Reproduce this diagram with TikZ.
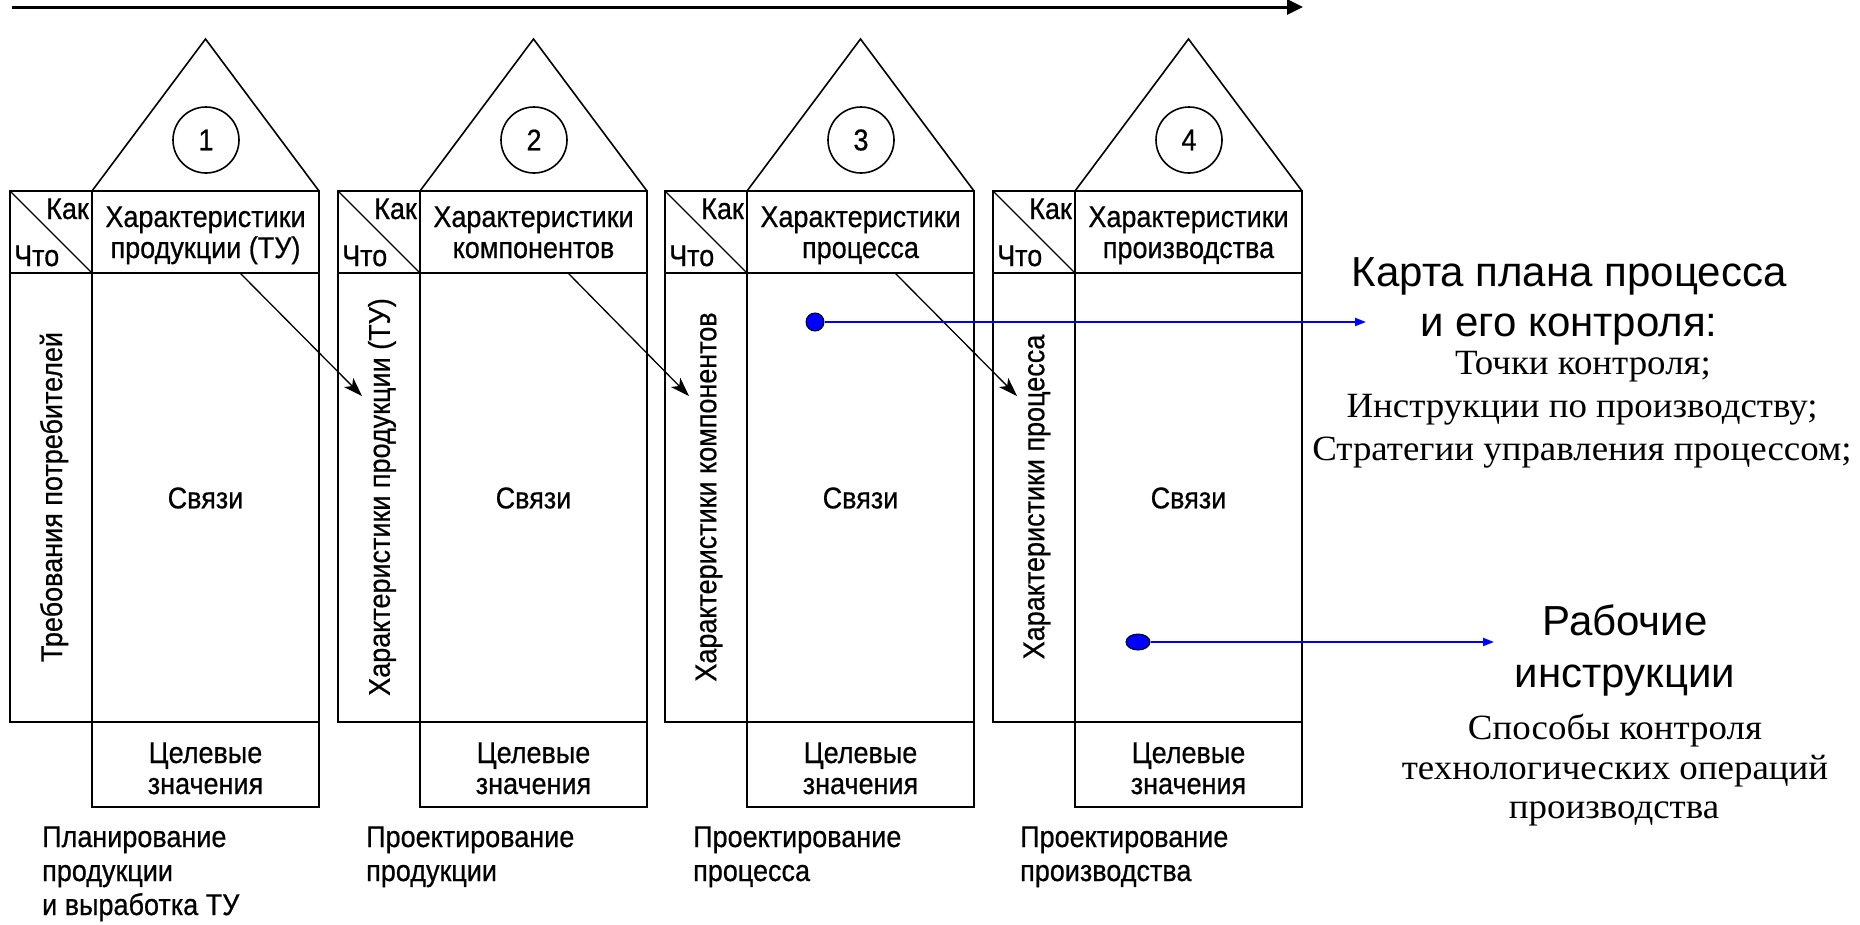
\documentclass[tikz,border=0pt]{standalone}
\usepackage{fontspec}
\setmainfont{Liberation Sans}
\newfontfamily\narrowsans[FakeStretch=0.9,FakeBold=0.6]{Liberation Sans}
\newfontfamily\tnr[FakeStretch=1.04]{Liberation Serif}
\usetikzlibrary{arrows.meta,shapes.geometric}
\definecolor{linkblue}{RGB}{0,0,255}
\begin{document}
\begin{tikzpicture}[x=1pt,y=-1pt,
  cell/.style={draw=black, line width=2.2pt},
  roofline/.style={draw=black, line width=1.6pt},
  sans/.style={font=\narrowsans\fontsize{30}{30}\selectfont, inner sep=0pt},
  big/.style={font=\fontsize{42}{42}\selectfont, inner sep=0pt, anchor=base},
  ser/.style={font=\tnr\fontsize{35.5}{35.5}\selectfont, inner sep=0pt, anchor=base},
  flow/.style={draw=black, line width=1.3pt, -{Stealth[length=19pt,width=13pt,inset=5pt]}},
  link/.style={draw=linkblue, line width=2pt, -{Triangle[length=11pt,width=8pt]}},
  dot/.style={fill=linkblue, draw=black, line width=1pt, ellipse, inner sep=0pt}
]
\useasboundingbox (0,0) rectangle (1860,924);
\fill[white] (0,0) rectangle (1860,924);

% time axis along the top
\coordinate (axisL) at (12,7);
\coordinate (axisR) at (1303,7);
\draw[line width=3pt, -{Triangle[length=16pt,width=15pt]}] (axisL) -- (axisR);

% the four houses of quality
\foreach \i/\L/\side/\ha/\hb/\la/\lb/\off in {
 1/10/{Требования потребителей}/{Характеристики}/{продукции (ТУ)}/{Планирование}/{продукции}/32,
 2/338/{Характеристики продукции (ТУ)}/{Характеристики}/{компонентов}/{Проектирование}/{продукции}/28,
 3/665/{Характеристики компонентов}/{Характеристики}/{процесса}/{Проектирование}/{процесса}/28,
 4/993/{Характеристики процесса}/{Характеристики}/{производства}/{Проектирование}/{производства}/27}
{
 \begin{scope}[shift={(\L,0)}]
  \draw[roofline] (82,191) -- (195.5,39) -- (309,191);
  \node[circle, roofline, minimum size=66pt, sans] (num\i) at (196,140) {\i};
  \draw[cell] (0,191) rectangle (82,722);
  \draw[cell] (82,191) rectangle (309,807);
  \draw[cell] (0,273) -- (309,273);
  \draw[cell] (0,722) -- (309,722);
  \draw[line width=1.3pt] (0,191) -- (82,273);
  \node[sans, anchor=base east] (how\i) at (79,219) {Как};
  \node[sans, anchor=base west] (what\i) at (4,266) {Что};
  \node[sans, anchor=base] (hda\i) at (195.5,227) {\ha};
  \node[sans, anchor=base] (hdb\i) at (195.5,258) {\hb};
  \node[sans, rotate=90] (side\i) at (44,497) {\side};
  \node[sans] (rel\i) at (195.5,498) {Связи};
  \node[sans, anchor=base] (tga\i) at (195.5,763) {Целевые};
  \node[sans, anchor=base] (tgb\i) at (195.5,794) {значения};
  \node[sans, anchor=base west] (sta\i) at (\off,847) {\la};
  \node[sans, anchor=base west] (stb\i) at (\off,881) {\lb};
  \coordinate (src\i) at (230,273);
  \coordinate (dst\i) at (24,396);
 \end{scope}
}
\node[sans, anchor=base west] (stc1) at (42,915) {и выработка ТУ};

% outputs of one house feed the next
\draw[flow] (src1) -- (dst2);
\draw[flow] (src2) -- (dst3);
\draw[flow] (src3) -- (dst4);

% process plan
\node[dot, minimum width=18pt, minimum height=18pt] (p1) at (815,322) {};
\coordinate (p1end) at (1366,322);
\draw[link] (p1) -- (p1end);
\node[big] (plana) at (1569,286) {Карта плана процесса};
\node[big] (planb) at (1569,336) {и его контроля:};
\node[ser] (pla) at (1583,374) {Точки контроля;};
\node[ser] (plb) at (1582,417) {Инструкции по производству;};
\node[ser] (plc) at (1582,460) {Стратегии управления процессом;};

% work instructions
\node[dot, minimum width=24pt, minimum height=16pt] (p2) at (1138,642) {};
\coordinate (p2end) at (1494,642);
\draw[link] (p2) -- (p2end);
\node[big] (wka) at (1625,635) {Рабочие};
\node[big] (wkb) at (1625,687) {инструкции};
\node[ser] (wla) at (1615,739) {Способы контроля};
\node[ser] (wlb) at (1615,779) {технологических операций};
\node[ser] (wlc) at (1614,818) {производства};
\end{tikzpicture}
\end{document}
